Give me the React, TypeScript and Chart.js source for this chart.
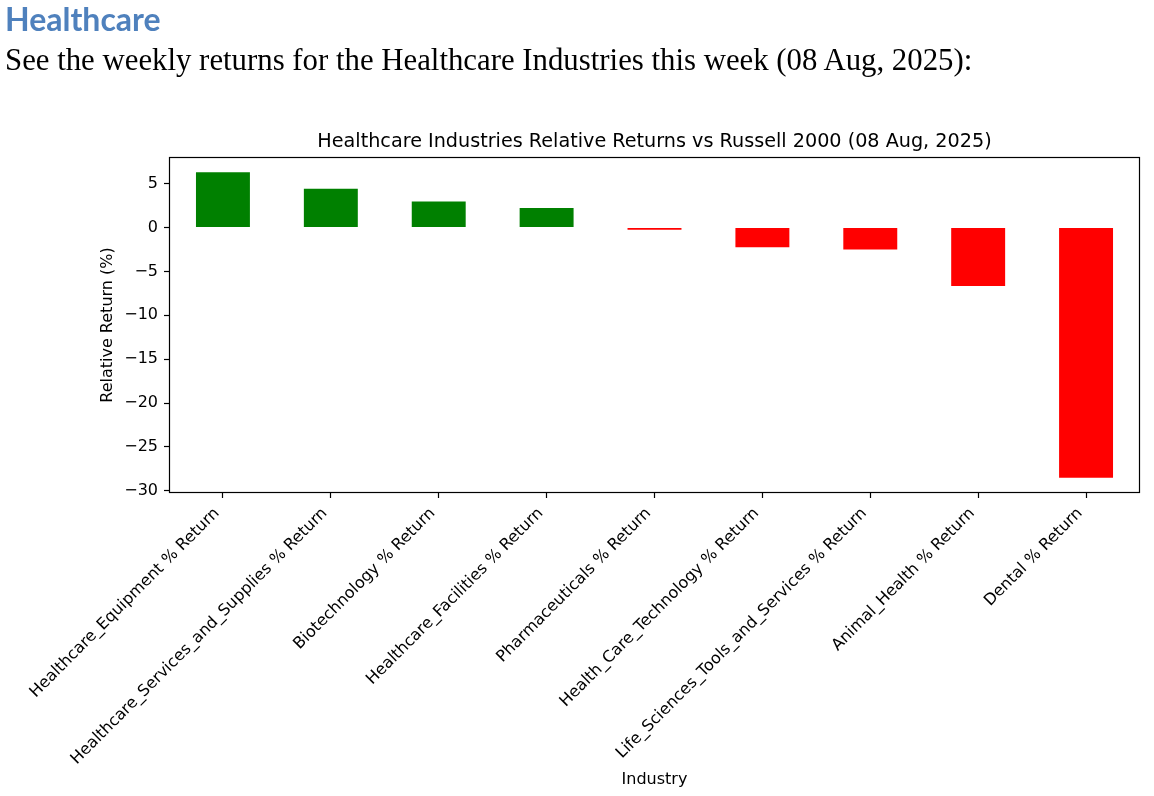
import React, { useEffect, useRef } from "react";
import { Chart, registerables } from "chart.js";

Chart.register(...registerables);

const heading = "Healthcare";
const intro = "See the weekly returns for the Healthcare Industries this week (08 Aug, 2025):";
const chartTitle = "Healthcare Industries Relative Returns vs Russell 2000 (08 Aug, 2025)";
const xAxisTitle = "Industry";
const yAxisTitle = "Relative Return (%)";

const categories = [
  "Healthcare_Equipment % Return",
  "Healthcare_Services_and_Supplies % Return",
  "Biotechnology % Return",
  "Healthcare_Facilities % Return",
  "Pharmaceuticals % Return",
  "Health_Care_Technology % Return",
  "Life_Sciences_Tools_and_Services % Return",
  "Animal_Health % Return",
  "Dental % Return",
];
const relativeReturns = [6.29, 4.42, 2.97, 2.22, -0.25, -2.24, -2.51, -6.66, -28.5];
const barColors = ["#008000", "#008000", "#008000", "#008000", "#ff0000", "#ff0000", "#ff0000", "#ff0000", "#ff0000"];

const FONT = "'DejaVu Sans', sans-serif";

const framePlugin = {
  id: "frame",
  afterDraw(chart: any) {
    const { ctx, chartArea } = chart;
    const l = Math.round(chartArea.left) + 0.5;
    const t = Math.round(chartArea.top) + 0.5;
    const r = Math.round(chartArea.right) - 0.5;
    const b = Math.round(chartArea.bottom) - 0.5;
    ctx.save();
    ctx.strokeStyle = "#000";
    ctx.lineWidth = 1.2;
    ctx.strokeRect(l, t, r - l, b - t);
    // axes title, centred over the plot area as matplotlib does
    ctx.fillStyle = "#000";
    ctx.font = "19.2px " + FONT;
    ctx.textAlign = "center";
    ctx.textBaseline = "middle";
    ctx.fillText(chartTitle, (chartArea.left + chartArea.right) / 2, chartArea.top - 15);
    ctx.restore();
  },
};

export default function App() {
  const canvasRef = useRef<HTMLCanvasElement | null>(null);

  useEffect(() => {
    const canvas = canvasRef.current;
    if (!canvas) return;
    const dataMin = Math.min(0, ...relativeReturns);
    const dataMax = Math.max(0, ...relativeReturns);
    const span = dataMax - dataMin;
    const yMin = dataMin - 0.05 * span;
    const yMax = dataMax + 0.05 * span;

    const chart = new Chart(canvas, {
      type: "bar",
      data: {
        labels: categories,
        datasets: [
          {
            data: relativeReturns,
            backgroundColor: barColors,
            borderWidth: 0,
            barPercentage: 0.5,
            categoryPercentage: 1.0,
          },
        ],
      },
      options: {
        animation: false,
        responsive: false,
        maintainAspectRatio: false,
        devicePixelRatio: 1,
        layout: { padding: { left: 90, right: 14, top: 157, bottom: 0 } },
        plugins: {
          legend: { display: false },
          tooltip: { enabled: false },
          title: { display: false },
        },
        scales: {
          x: {
            offset: true,
            grid: {
              offset: false,
              drawOnChartArea: false,
              drawTicks: true,
              tickLength: 5,
              tickColor: "#000",
              tickWidth: 1.2,
            },
            border: { display: false },
            ticks: {
              autoSkip: false,
              minRotation: 45,
              maxRotation: 45,
              color: "#000",
              font: { family: FONT, size: 16 },
              padding: 6,
              labelOffset: -6,
            },
            title: {
              display: true,
              text: xAxisTitle,
              color: "#000",
              font: { family: FONT, size: 16 },
              padding: { top: 0, bottom: 6.4 },
            },
            afterFit(scale: any) {
              scale.height = 303;
            },
          },
          y: {
            min: yMin,
            max: yMax,
            grid: {
              drawOnChartArea: false,
              drawTicks: true,
              tickLength: 5,
              tickColor: "#000",
              tickWidth: 1.2,
            },
            border: { display: false },
            ticks: {
              stepSize: 5,
              includeBounds: false,
              color: "#000",
              font: { family: FONT, size: 16 },
              padding: 6,
              callback: (v: any) => {
                const n = Number(v);
                return n < 0 ? "\u2212" + Math.abs(n) : String(n);
              },
            },
            title: {
              display: true,
              text: yAxisTitle,
              color: "#000",
              font: { family: FONT, size: 16 },
              padding: { top: 8.4, bottom: 0 },
            },
            afterFit(scale: any) {
              scale.width = 79;
            },
          },
        },
      },
      plugins: [framePlugin],
    });
    return () => chart.destroy();
  }, []);

  return (
    <div style={{ position: "absolute", left: 0, top: 0, width: 1154, height: 796, background: "#fff", overflow: "hidden" }}>
      <canvas ref={canvasRef} width={1154} height={796} style={{ position: "absolute", left: 0, top: 0, width: 1154, height: 796 }} />
      <div
        style={{
          position: "absolute",
          left: 5,
          top: 3,
          fontFamily: "Lato, 'Open Sans', sans-serif",
          fontWeight: 700,
          fontSize: 32,
          lineHeight: "32px",
          color: "#4f81bd",
          whiteSpace: "nowrap",
        }}
      >
        {heading}
      </div>
      <div
        style={{
          position: "absolute",
          left: 5,
          top: 45,
          fontFamily: "'Liberation Serif', serif",
          fontSize: 30.8,
          lineHeight: "30px",
          color: "#000",
          whiteSpace: "nowrap",
        }}
      >
        {intro}
      </div>
    </div>
  );
}
